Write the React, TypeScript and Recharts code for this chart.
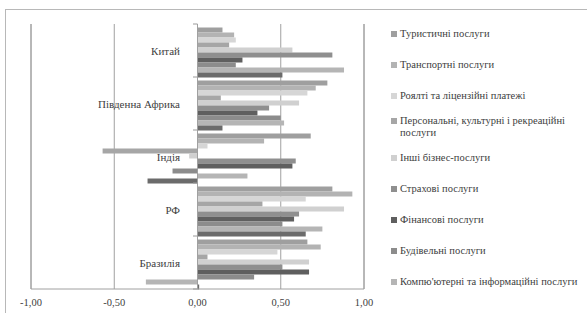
import { BarChart, Bar, XAxis, YAxis, CartesianGrid, ReferenceLine } from "recharts";

const categories = ["Китай", "Південна Африка", "Індія", "РФ", "Бразилія"];

const seriesNames = [
  "Туристичні послуги",
  "Транспортні послуги",
  "Роялті та ліцензійні платежі",
  "Персональні, культурні і рекреаційні послуги",
  "Інші бізнес-послуги",
  "Страхові послуги",
  "Фінансові послуги",
  "Будівельні послуги",
  "Компю'ютерні та інформаційні послуги",
  "Інші послуги",
];

// 10th series has no entry in the legend of the original
const inLegend = [true, true, true, true, true, true, true, true, true, false];

const seriesColors = [
  "#9f9f9f",
  "#b3b3b3",
  "#d6d6d6",
  "#a6a6a6",
  "#d0d0d0",
  "#8f8f8f",
  "#5f5f5f",
  "#8c8c8c",
  "#b5b5b5",
  "#6b6b6b",
];

// values per category, in the order of `categories`
const tourism = [0.15, 0.78, 0.68, 0.81, 0.66];
const transport = [0.22, 0.71, 0.4, 0.93, 0.74];
const royalties = [0.23, 0.66, 0.06, 0.65, 0.48];
const personal = [0.19, 0.14, -0.57, 0.39, 0.06];
const otherBusiness = [0.57, 0.61, -0.05, 0.88, 0.67];
const insurance = [0.81, 0.43, 0.59, 0.61, 0.51];
const finance = [0.27, 0.36, 0.57, 0.58, 0.67];
const construction = [0.23, 0.5, -0.15, 0.51, 0.34];
const computer = [0.88, 0.52, 0.3, 0.75, -0.31];
const otherServices = [0.51, 0.15, -0.3, 0.65, 0.01];

const seriesValues = [
  tourism,
  transport,
  royalties,
  personal,
  otherBusiness,
  insurance,
  finance,
  construction,
  computer,
  otherServices,
];

const xTicks = [-1, -0.5, 0, 0.5, 1];

const data = categories.map((name, i) => {
  const row: Record<string, string | number> = { name };
  seriesValues.forEach((vals, s) => {
    row["s" + s] = vals[i];
  });
  return row;
});

const FONT = "Liberation Serif, DejaVu Serif, serif";
const PLOT_TOP = 24;
const PLOT_BOTTOM = 289;

// category labels sit next to the zero line, like in Excel
function CatTick(props: any) {
  const { y, payload, index } = props;
  const last = index === categories.length - 1;
  return (
    <g>
      <text
        x={180}
        y={y}
        dy={4}
        textAnchor="end"
        fontSize={11}
        fontFamily={FONT}
        fill="#404040"
      >
        {payload.value}
      </text>
      <line x1={193} x2={197.5} y1={y - 26.5} y2={y - 26.5} stroke="#9a9a9a" />
      {last && <line x1={193} x2={197.5} y1={y + 26.5} y2={y + 26.5} stroke="#9a9a9a" />}
    </g>
  );
}

// value labels; the outer gridline at 1,00 is drawn here so it is never clipped
function ValTick(props: any) {
  const { x, y, payload } = props;
  const v: number = payload.value;
  return (
    <g>
      {v === 1 && (
        <line x1={x} x2={x} y1={PLOT_TOP} y2={PLOT_BOTTOM} stroke="#a0a0a0" />
      )}
      <text
        x={x}
        y={y}
        dy={9}
        textAnchor="middle"
        fontSize={10.5}
        fontFamily={FONT}
        fill="#404040"
      >
        {v.toFixed(2).replace(".", ",")}
      </text>
    </g>
  );
}

export default function App() {
  return (
    <div
      style={{
        position: "absolute",
        left: 0,
        top: 0,
        width: 587,
        height: 313,
        overflow: "hidden",
        background: "#fff",
      }}
    >
      <div
        style={{
          position: "absolute",
          left: 5,
          top: 9,
          width: 600,
          height: 330,
          border: "1px solid #b8b8b8",
        }}
      />
      <BarChart
        width={587}
        height={313}
        data={data}
        layout="vertical"
        margin={{ top: PLOT_TOP, right: 223, bottom: 313 - PLOT_BOTTOM - 20, left: 30 }}
        barCategoryGap={3.5}
        barGap={0}
      >
        <CartesianGrid horizontal={false} stroke="#a0a0a0" syncWithTicks />
        <XAxis
          type="number"
          domain={[-1, 1]}
          ticks={xTicks}
          height={20}
          tickLine={false}
          axisLine={{ stroke: "#a0a0a0" }}
          tick={(p: any) => <ValTick {...p} />}
        />
        <YAxis
          type="category"
          dataKey="name"
          width={1}
          tickLine={false}
          axisLine={false}
          tick={(p: any) => <CatTick {...p} />}
          interval={0}
        />
        <ReferenceLine x={-1} stroke="#a0a0a0" ifOverflow="visible" />
        {seriesNames.map((n, s) => (
          <Bar
            key={n}
            dataKey={"s" + s}
            name={n}
            fill={seriesColors[s]}
            isAnimationActive={false}
          />
        ))}
        <ReferenceLine x={0} stroke="#a0a0a0" />
      </BarChart>
      <div
        style={{
          position: "absolute",
          left: 391,
          top: 18,
          width: 190,
          fontFamily: FONT,
          fontSize: 10.5,
          color: "#404040",
        }}
      >
        {seriesNames.map((n, s) =>
          inLegend[s] ? (
            <div
              key={n}
              style={{
                height: 31,
                display: "flex",
                alignItems: "center",
              }}
            >
              <div style={{ display: "flex", alignItems: "flex-start", lineHeight: "12px" }}>
                <span
                  style={{
                    display: "inline-block",
                    width: 6,
                    height: 6,
                    marginTop: 3,
                    marginRight: 3,
                    background: seriesColors[s],
                    flexShrink: 0,
                  }}
                />
                <span style={{ width: 178 }}>{n}</span>
              </div>
            </div>
          ) : null
        )}
      </div>
    </div>
  );
}
